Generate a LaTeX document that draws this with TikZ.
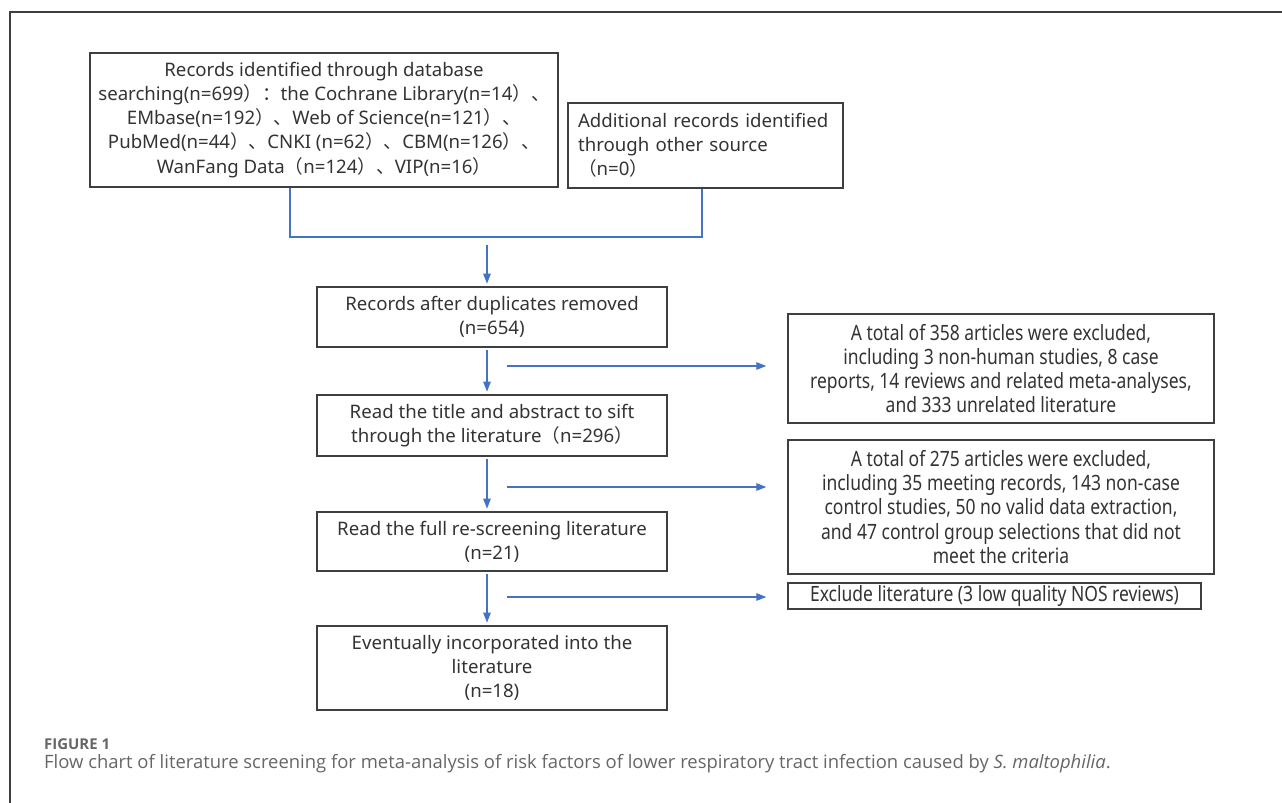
\documentclass[tikz,border=0pt]{standalone}
\usepackage{fontspec}
\setmainfont{Noto Sans}
\newfontfamily\cjk{Noto Sans CJK SC}
\newfontfamily\narrow[FakeStretch=0.83]{Noto Sans}
\newfontfamily\capfont{Open Sans}
\usetikzlibrary{arrows.meta,positioning,calc}
\definecolor{fcLine}{HTML}{3F3F3F}
\definecolor{fcText}{HTML}{333333}
\definecolor{fcArrow}{HTML}{4472C4}
\definecolor{fcCap}{HTML}{666666}
\newcommand\fwl{{\cjk （}}
\newcommand\fwr{{\cjk ）}}
\newcommand\fwc{{\cjk 、}}
\newcommand\fwco{{\cjk ：}}
\tikzset{
  fc/.style={font=\fontsize{10.6}{13.7}\selectfont, text=fcText, >={Triangle[length=2mm, width=1.5mm]}},
  box/.style={draw=fcLine, line width=.85pt, align=center, inner sep=0pt},
  midbox/.style={box, minimum width=7cm},
  exbox/.style={box, font=\narrow\fontsize{12}{13.7}\selectfont, minimum width=8.52cm},
  flow/.style={->, draw=fcArrow, line width=.7pt, shorten <=1.5pt, shorten >=1.5pt},
  link/.style={-, draw=fcArrow, line width=.7pt},
  frame/.style={draw=fcLine, line width=.9pt},
}
\begin{document}
\begin{tikzpicture}[fc, x=0.02cm, y=-0.02cm]
\useasboundingbox (0,0) rectangle (1282,803);
\draw[frame] (1282,12) -- (10,12) -- (10,803);
% sources
\node[box, minimum width=9.36cm, minimum height=2.68cm] (db) at (324,120) {Records identified through database\\
  searching(n=699\fwr\fwco the Cochrane Library(n=14\fwr\fwc\\
  EMbase(n=192\fwr\fwc Web of Science(n=121\fwr\fwc\\
  PubMed(n=44\fwr\fwc CNKI (n=62\fwr\fwc CBM(n=126\fwr\fwc\\
  WanFang Data\fwl n=124\fwr\fwc VIP(n=16\fwr};
\node[box, align=left, text width=5.1cm, inner sep=.2cm, minimum height=1.7cm] (other) at (705.5,145.5) {Additional records identified\\
  through other source\\ \fwl n=0\fwr};
% main column
\node[midbox, minimum height=1.2cm] (dup) at (492,317) {Records after duplicates removed\\(n=654)};
\node[midbox, minimum height=1.22cm] (sift) at (492,425.5) {Read the title and abstract to sift\\through the literature\fwl n=296\fwr};
\node[midbox, minimum height=1.18cm] (full) at (492,541.5) {Read the full re-screening literature\\(n=21)};
\node[midbox, minimum height=1.68cm] (incl) at (492,668) {Eventually incorporated into the\\literature\\(n=18)};
% exclusions
\node[exbox, minimum height=2.18cm] (ex1) at (1001,368.5) {A total of 358 articles were excluded,\\
  including 3 non-human studies, 8 case\\
  reports, 14 reviews and related meta-analyses,\\
  and 333 unrelated literature};
\node[exbox, minimum height=2.68cm] (ex2) at (1001,507) {A total of 275 articles were excluded,\\
  including 35 meeting records, 143 non-case\\
  control studies, 50 no valid data extraction,\\
  and 47 control group selections that did not\\
  meet the criteria};
\node[exbox, minimum width=8.26cm, minimum height=.52cm] (ex3) at (994.5,596) {Exclude literature (3 low quality NOS reviews)};

\coordinate (mL) at (290,237);
\coordinate (mR) at (702,237);
\coordinate (mC) at (487,242);
\coordinate (s1) at (504,366);
\coordinate (s2) at (504,487);
\coordinate (s3) at (504,597);
\draw[link] (db.south -| mL) -- (mL) -- (mR) -- (other.south -| mR);
\draw[flow] (mC) -- (dup.north -| mC);
\draw[flow] (dup.south -| mC) -- (sift.north -| mC);
\draw[flow] (sift.south -| mC) -- (full.north -| mC);
\draw[flow] (full.south -| mC) -- (incl.north -| mC);
\draw[flow, shorten >=.42cm] (s1) -- (ex1.west |- s1);
\draw[flow, shorten >=.42cm] (s2) -- (ex2.west |- s2);
\draw[flow, shorten >=.42cm] (s3) -- (ex3.west |- s3);

% caption
\node[anchor=west, font=\capfont\bfseries\fontsize{8.5}{10}\selectfont, text=fcCap] (fig) at (38,744) {FIGURE 1};
\node[anchor=west, font=\capfont\fontsize{10.5}{12}\selectfont, text=fcCap] (cap) at (38,764) {Flow chart of literature screening for meta-analysis of risk factors of lower respiratory tract infection caused by \textit{S. maltophilia}.};
\end{tikzpicture}
\end{document}
